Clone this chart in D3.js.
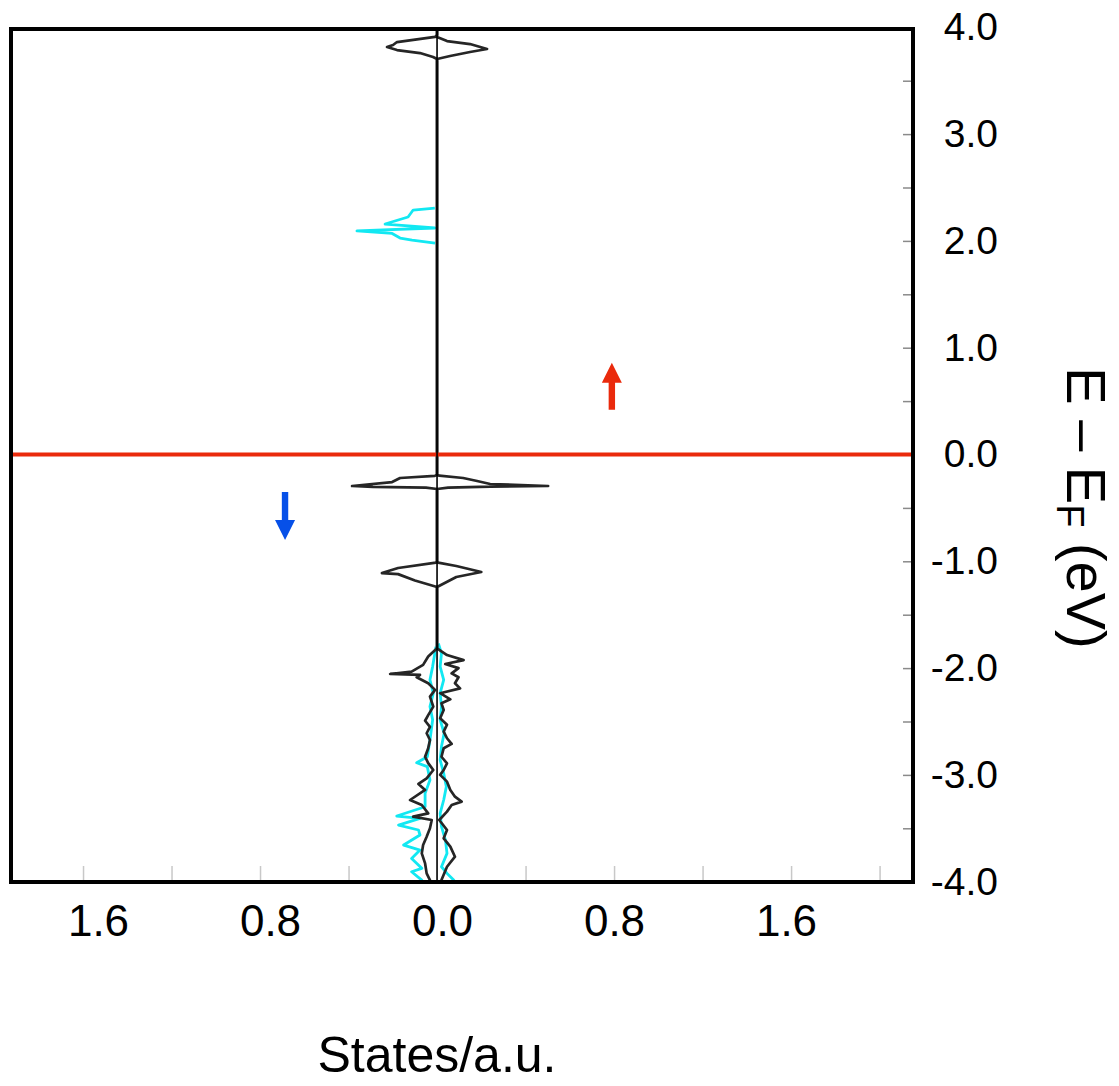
<!DOCTYPE html>
<html>
<head>
<meta charset="utf-8">
<script src="https://cdn.jsdelivr.net/npm/d3@7"></script>
<style>
body { margin: 0; background: #fff; }
text { font-family: "Liberation Sans", Arial, sans-serif; fill: #000; }
</style>
</head>
<body>
<script>
// [energy (eV), states] ; spin-down values are stored positive and drawn to the left
var blackUp = [
  [4.0,0],[3.909,0],[3.871,0.045],[3.843,0.149],[3.797,0.226],[3.769,0.149],[3.731,0.059],[3.703,0],
  [-0.19,0],[-0.198,0.01],[-0.22,0.118],[-0.248,0.181],[-0.276,0.24],[-0.295,0.502],[-0.300,0.24],[-0.31,0.05],[-0.323,0],
  [-1.0,0],[-1.013,0.005],[-1.044,0.087],[-1.10,0.2],[-1.147,0.087],[-1.24,0],
  [-1.815,0],[-1.878,0.045],[-1.925,0.12],[-1.962,0.037],[-2.0,0.097],[-2.05,0.066],[-2.086,0.097],
  [-2.142,0.081],[-2.19,0.104],[-2.235,0.014],[-2.292,0.06],[-2.33,0.02],[-2.392,0.03],[-2.47,0.014],
  [-2.53,0.045],[-2.595,0.03],[-2.657,0.045],[-2.71,0.066],[-2.75,0.03],[-2.83,0.02],[-2.892,0.045],
  [-2.954,0.03],[-3.0,0.014],[-3.063,0.045],[-3.141,0.06],[-3.204,0.081],[-3.25,0.111],[-3.282,0.066],
  [-3.344,0.045],[-3.422,0.01],[-3.516,0.045],[-3.594,0.03],[-3.672,0.06],[-3.766,0.081],[-3.86,0.045],
  [-3.985,0.02],[-4.0,0.02]
];
var blackDown = [
  [4.0,0],[3.928,0],[3.91,0.009],[3.862,0.181],[3.834,0.199],[3.815,0.226],[3.787,0.181],[3.759,0.077],[3.722,0.018],[3.703,0],
  [-0.19,0],[-0.20,0.01],[-0.22,0.167],[-0.258,0.203],[-0.295,0.384],[-0.304,0.29],[-0.31,0.05],[-0.323,0],
  [-1.0,0],[-1.013,0.005],[-1.063,0.176],[-1.11,0.249],[-1.12,0.176],[-1.18,0.1],[-1.24,0],
  [-1.815,0],[-1.892,0.04],[-1.97,0.063],[-2.033,0.115],[-2.055,0.212],[-2.064,0.077],[-2.086,0.092],
  [-2.142,0.04],[-2.204,0.009],[-2.267,0.032],[-2.361,0.017],[-2.44,0.04],[-2.493,0.054],[-2.55,0.032],
  [-2.61,0.047],[-2.673,0.032],[-2.75,0.04],[-2.83,0.054],[-2.89,0.04],[-2.954,0.017],[-3.032,0.047],
  [-3.085,0.084],[-3.141,0.054],[-3.235,0.122],[-3.282,0.069],[-3.36,0.04],[-3.391,0.108],[-3.422,0.024],
  [-3.5,0.032],[-3.579,0.047],[-3.657,0.063],[-3.735,0.069],[-3.829,0.054],[-3.922,0.047],[-3.985,0.032],[-4.0,0.032]
];
var cyanUp = [
  [-1.77,0.006],[-1.862,0.02],[-1.986,0.014],[-2.11,0.03],[-2.235,0.014],[-2.36,0.02],[-2.485,0.014],
  [-2.61,0.032],[-2.735,0.02],[-2.86,0.014],[-2.985,0.03],[-3.11,0.042],[-3.235,0.03],[-3.36,0.014],
  [-3.485,0.02],[-3.61,0.038],[-3.735,0.045],[-3.86,0.02],[-3.922,0.045],[-3.985,0.075],[-4.0,0.08]
];
var cyanDownHigh = [
  [2.306,0.01],[2.289,0.108],[2.224,0.131],[2.158,0.235],[2.121,0.01],[2.093,0.362],[2.07,0.203],
  [2.027,0.167],[2.008,0.113],[1.98,0.009]
];
var cyanDownLow = [
  [-1.8,0.005],[-1.986,0.02],[-2.11,0.032],[-2.235,0.017],[-2.36,0.032],[-2.485,0.02],[-2.673,0.032],
  [-2.83,0.044],[-2.886,0.092],[-2.923,0.044],[-3.048,0.032],[-3.173,0.054],[-3.298,0.054],[-3.385,0.182],
  [-3.407,0.077],[-3.47,0.174],[-3.516,0.084],[-3.563,0.077],[-3.657,0.151],[-3.704,0.077],[-3.782,0.115],
  [-3.875,0.069],[-3.907,0.115],[-3.985,0.069],[-4.0,0.07]
];
var xTicks = [-1.6,-1.2,-0.8,-0.4,0.4,0.8,1.2,1.6,2.0];
var xLabels = [-1.6,-0.8,0,0.8,1.6];
var yTicks = d3.range(-4,4.01,0.5);

var W = 1119, H = 1086;
var svg = d3.select("body").append("svg").attr("width", W).attr("height", H);

var x = d3.scaleLinear().domain([-1.93, 2.151]).range([10, 913]);
var y = d3.scaleLinear().domain([-4, 4]).range([881.7, 27.3]);
var xLab = d3.scaleLinear().domain([-1.6, 1.6]).range([98, 786]);

var lineUp = d3.line().x(function(d){ return x(d[1]); }).y(function(d){ return y(d[0]); });
var lineDown = d3.line().x(function(d){ return x(-d[1]); }).y(function(d){ return y(d[0]); });

// x ticks
var xa = svg.append("g").attr("transform", "translate(0,882)")
  .call(d3.axisBottom(x).tickValues(xTicks).tickSizeInner(-16).tickSizeOuter(0).tickFormat(""));
xa.select(".domain").remove();
xa.selectAll("line").attr("stroke", "#c8c8c8").attr("stroke-width", 1.5);

var xl = svg.append("g").attr("transform", "translate(0,882)")
  .call(d3.axisBottom(xLab).tickValues(xLabels).tickSize(0).tickPadding(23)
    .tickFormat(function(d){ return d3.format(".1f")(Math.abs(d)); }));
xl.select(".domain").remove();
xl.selectAll("text").style("font-size", "44px").attr("fill", "#000");

// y axis on the right
var ya = svg.append("g").attr("transform", "translate(913,0)")
  .call(d3.axisRight(y).tickValues(yTicks).tickSizeInner(-10).tickSizeOuter(0)
    .tickFormat(function(d){ return (Math.abs(d % 1) < 1e-6) ? d.toFixed(1) : ""; }));
ya.select(".domain").remove();
ya.selectAll("line").attr("stroke", "#8a8a8a").attr("stroke-width", 1.5);
ya.selectAll("text").attr("text-anchor", "end").attr("x", 85).style("font-size", "39px").attr("fill", "#000");

// curves
[cyanDownHigh, cyanDownLow].forEach(function(s){
  svg.append("path").datum(s).attr("d", lineDown).attr("fill", "none").attr("stroke", "#12e8f2")
    .attr("stroke-width", 2.8).attr("stroke-linejoin", "round");
});
svg.append("path").datum(cyanUp).attr("d", lineUp).attr("fill", "none").attr("stroke", "#12e8f2")
  .attr("stroke-width", 2.8).attr("stroke-linejoin", "round");
svg.append("path").datum(blackDown).attr("d", lineDown).attr("fill", "none").attr("stroke", "#262626")
  .attr("stroke-width", 2.7).attr("stroke-linejoin", "round");
svg.append("path").datum(blackUp).attr("d", lineUp).attr("fill", "none").attr("stroke", "#262626")
  .attr("stroke-width", 2.7).attr("stroke-linejoin", "round");

// Fermi level
svg.append("line").attr("x1", x(-1.93)).attr("x2", x(2.151)).attr("y1", y(0)).attr("y2", y(0))
  .attr("stroke", "#ea2a0c").attr("stroke-width", 4);

// zero line
svg.append("line").attr("x1", x(0)).attr("x2", x(0)).attr("y1", y(4)).attr("y2", y(-4))
  .attr("stroke", "#000").attr("stroke-width", 1.6);

// frame
svg.append("rect").attr("x", 11).attr("y", 29).attr("width", 902).attr("height", 853)
  .attr("fill", "none").attr("stroke", "#000").attr("stroke-width", 4);

// spin arrows
function arrow(xv, e0, e1, color) {
  var cx = x(xv), yb = y(e0), yt = y(e1), dir = yt < yb ? 1 : -1;
  var headLen = 20, hw = 10, sw = 3.2;
  var yh = yt + dir * headLen;
  svg.append("path")
    .attr("d", "M" + (cx - sw) + "," + yb + "L" + (cx - sw) + "," + yh + "L" + (cx - hw) + "," + yh +
      "L" + cx + "," + yt + "L" + (cx + hw) + "," + yh + "L" + (cx + sw) + "," + yh + "L" + (cx + sw) + "," + yb + "Z")
    .attr("fill", color);
}
arrow(0.79, 0.42, 0.86, "#ea2a0c");
arrow(-0.687, -0.35, -0.80, "#0650e8");

// titles
svg.append("text").attr("x", 437).attr("y", 1072).attr("text-anchor", "middle")
  .style("font-size", "50px").text("States/a.u.");

var yt = svg.append("text").attr("transform", "translate(1067,508) rotate(90)")
  .attr("text-anchor", "middle").style("font-size", "56px");
yt.append("tspan").text("E \u2013 E");
yt.append("tspan").attr("baseline-shift", "-25%").style("font-size", "38px").text("F");
yt.append("tspan").text(" (eV)");
</script>
</body>
</html>
